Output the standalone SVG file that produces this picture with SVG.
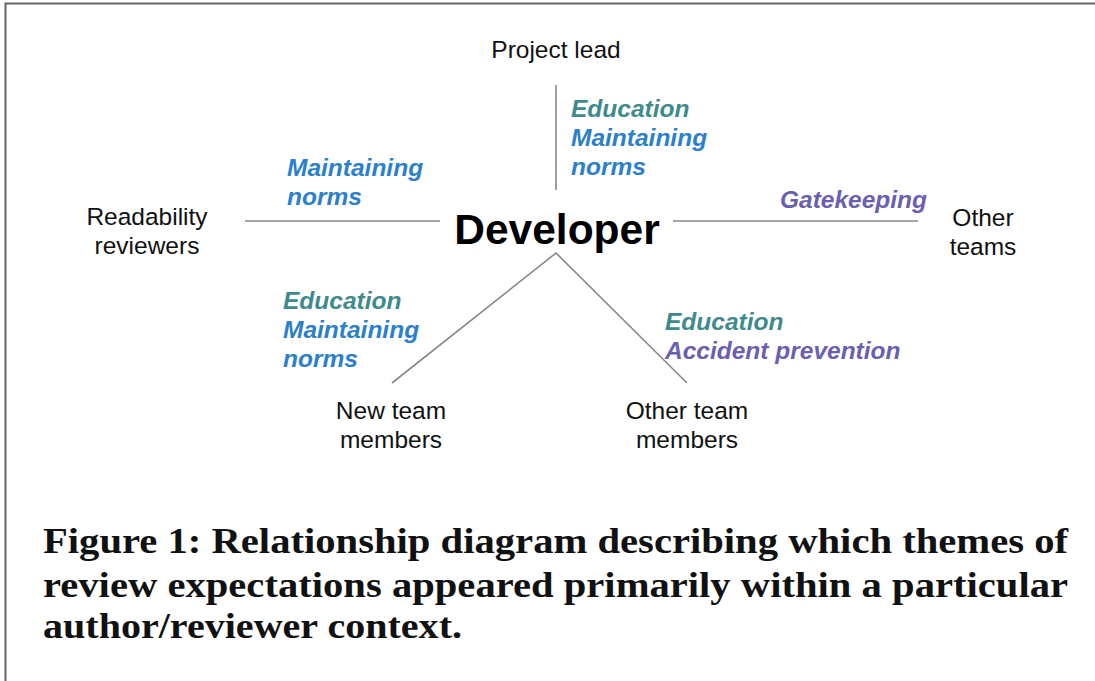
<svg xmlns="http://www.w3.org/2000/svg" width="1095" height="681" viewBox="0 0 1095 681">
  <style>
    .node { font-family: "Liberation Sans", Arial, sans-serif; font-size: 24.5px; fill: #111; text-anchor: middle; }
    .hub { font-family: "Liberation Sans", Arial, sans-serif; font-size: 42.5px; font-weight: bold; fill: #000; text-anchor: middle; }
    .theme { font-family: "Liberation Sans", Arial, sans-serif; font-size: 24.5px; font-weight: bold; font-style: italic; }
    .edu { fill: #3f8b8c; }
    .norms { fill: #2a80cc; }
    .guard { fill: #6a5fb0; }
    .link { stroke: #888; stroke-width: 1.6; fill: none; }
    .caption { font-family: "Liberation Serif", "Times New Roman", serif; font-size: 35px; font-weight: bold; fill: #111; }
  </style>

  <rect width="1095" height="681" fill="#ffffff"/>
  <!-- page frame -->
  <path d="M5.5 681 V3.5 H1095" fill="none" stroke="#666" stroke-width="2"/>

  <!-- connectors -->
  <g id="connectors">
    <line class="link" x1="556" y1="85" x2="556" y2="190"/>
    <line class="link" x1="245" y1="221" x2="440" y2="221"/>
    <line class="link" x1="673" y1="221" x2="918" y2="221"/>
    <polyline class="link" points="392,383 556,253 687,383"/>
  </g>

  <!-- theme labels on connectors -->
  <g id="labels">
    <text class="theme edu" x="571" y="117">Education</text>
    <text class="theme norms" x="571" y="146">Maintaining</text>
    <text class="theme norms" x="571" y="175">norms</text>

    <text class="theme norms" x="287" y="176">Maintaining</text>
    <text class="theme norms" x="287" y="205">norms</text>

    <text class="theme guard" x="780" y="208">Gatekeeping</text>

    <text class="theme edu" x="283" y="309">Education</text>
    <text class="theme norms" x="283" y="338">Maintaining</text>
    <text class="theme norms" x="283" y="367">norms</text>

    <text class="theme edu" x="665" y="330">Education</text>
    <text class="theme guard" x="665" y="359">Accident prevention</text>
  </g>

  <g id="developer">
    <text class="hub" x="557" y="244">Developer</text>
  </g>
  <g id="project-lead">
    <text class="node" x="556" y="58">Project lead</text>
  </g>
  <g id="readability-reviewers">
    <text class="node" x="147" y="225">Readability</text>
    <text class="node" x="147" y="254">reviewers</text>
  </g>
  <g id="other-teams">
    <text class="node" x="983" y="226">Other</text>
    <text class="node" x="983" y="255">teams</text>
  </g>
  <g id="new-team-members">
    <text class="node" x="391" y="419">New team</text>
    <text class="node" x="391" y="448">members</text>
  </g>
  <g id="other-team-members">
    <text class="node" x="687" y="419">Other team</text>
    <text class="node" x="687" y="448">members</text>
  </g>

  <!-- figure caption -->
  <g id="caption">
    <text class="caption" x="43" y="553" textLength="1025" lengthAdjust="spacingAndGlyphs">Figure 1: Relationship diagram describing which themes of</text>
    <text class="caption" x="43" y="597" textLength="1025" lengthAdjust="spacingAndGlyphs">review expectations appeared primarily within a particular</text>
    <text class="caption" x="43" y="638" textLength="419" lengthAdjust="spacingAndGlyphs">author/reviewer context.</text>
  </g>
</svg>
